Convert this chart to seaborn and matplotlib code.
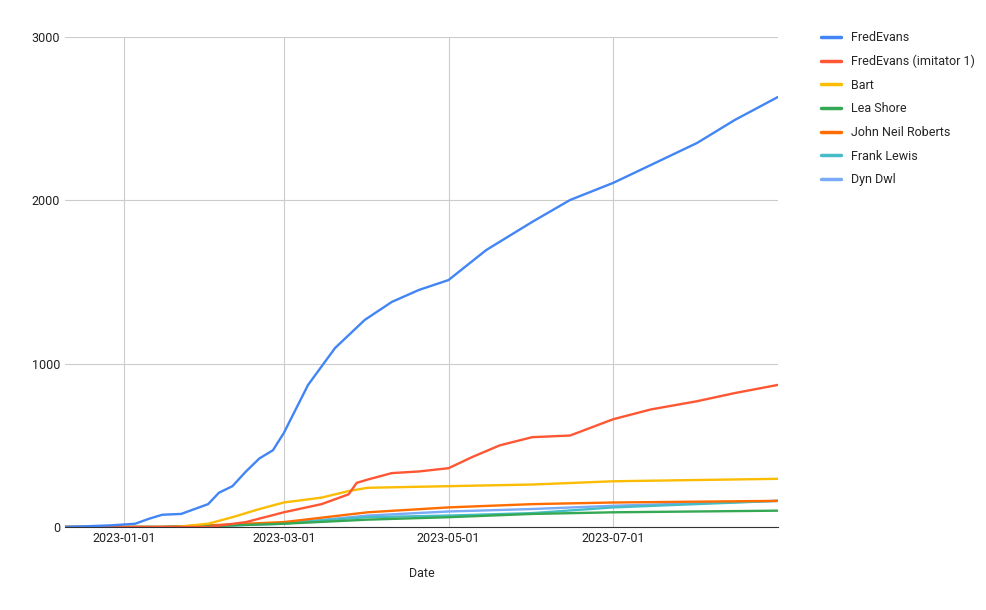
import matplotlib
matplotlib.use("Agg")
import matplotlib.pyplot as plt
import matplotlib.dates as mdates
import seaborn as sns
import pandas as pd

names = ["FredEvans", "FredEvans (imitator 1)", "Bart", "Lea Shore", "John Neil Roberts", "Frank Lewis", "Dyn Dwl"]
colors = ["#4285F4", "#FF5733", "#FBBC04", "#34A853", "#FF6D01", "#46BDC6", "#7BAAF7"]

fred_d = ["2022-12-10","2022-12-27","2023-01-05","2023-01-10","2023-01-15","2023-01-22","2023-02-01","2023-02-05","2023-02-10","2023-02-15","2023-02-20","2023-02-25","2023-03-01","2023-03-10","2023-03-20","2023-03-31","2023-04-10","2023-04-20","2023-05-01","2023-05-15","2023-06-01","2023-06-15","2023-07-01","2023-07-15","2023-08-01","2023-08-15","2023-08-31"]
fred_v = [0,10,20,50,75,80,140,210,250,340,420,470,575,870,1096,1268,1378,1451,1512,1696,1868,2002,2107,2217,2351,2492,2633]
imit_d = ["2022-12-10","2023-02-01","2023-02-15","2023-03-01","2023-03-15","2023-03-25","2023-03-28","2023-04-01","2023-04-10","2023-04-20","2023-05-01","2023-05-10","2023-05-20","2023-06-01","2023-06-15","2023-07-01","2023-07-15","2023-08-01","2023-08-15","2023-08-31"]
imit_v = [0,0,30,90,140,200,270,290,330,340,360,430,500,550,560,660,720,770,820,870]
bart_d = ["2022-12-10","2023-01-20","2023-02-01","2023-02-10","2023-02-20","2023-03-01","2023-03-15","2023-03-25","2023-04-01","2023-05-01","2023-06-01","2023-07-01","2023-08-31"]
bart_v = [0,0,20,60,110,150,180,220,240,250,260,280,295]
common_d = ["2022-12-10","2023-01-15","2023-02-01","2023-03-01","2023-04-01","2023-05-01","2023-06-01","2023-07-01","2023-08-31"]
lea_v = [0,0,5,20,45,60,80,90,100]
john_v = [0,0,10,30,90,120,140,150,160]
frank_v = [0,0,5,25,60,70,85,120,160]
dyn_v = [0,0,5,20,70,95,110,130,160]

series = [(fred_d, fred_v), (imit_d, imit_v), (bart_d, bart_v), (common_d, lea_v),
          (common_d, john_v), (common_d, frank_v), (common_d, dyn_v)]
rows = []
for n, (d, v) in zip(names, series):
    for di, vi in zip(d, v):
        rows.append({"Date": pd.Timestamp(di), "value": vi, "name": n})
df = pd.DataFrame(rows)

sns.set_style("white")
plt.rcParams['font.family'] = ['Roboto', 'DejaVu Sans']
fig = plt.figure(figsize=(9.86, 6.10), dpi=100)
ax = fig.add_axes([65/986, 1-527/610, (778-65)/986, (527-37)/610])
for n, c in list(zip(names, colors))[::-1]:
    sub = df[df.name == n]
    sns.lineplot(data=sub, x="Date", y="value", color=c, lw=1.7, ax=ax, label=n)
h, l = ax.get_legend_handles_labels()
leg = ax.legend(h[::-1], l[::-1], loc="upper left", bbox_to_anchor=(1.045, 1.035), frameon=False,
          fontsize=9, labelspacing=0.85, handlelength=1.6)
for line in leg.get_lines():
    line.set_linewidth(2.5)
ax.set_xlim(pd.Timestamp("2022-12-10"), pd.Timestamp("2023-08-31"))
ax.set_ylim(0, 3000)
ax.set_yticks([0, 1000, 2000, 3000])
ax.set_xticks([pd.Timestamp(x) for x in ["2023-01-01", "2023-03-01", "2023-05-01", "2023-07-01"]])
ax.xaxis.set_major_formatter(mdates.DateFormatter("%Y-%m-%d"))
ax.grid(True, color="#cccccc", lw=0.8)
for s in ["top", "right", "left"]:
    ax.spines[s].set_visible(False)
ax.spines["bottom"].set_color("#333333")
ax.tick_params(length=0, labelsize=9, colors="#222222")
ax.set_xlabel("Date", fontsize=9, labelpad=16)
ax.set_ylabel("")
fig.savefig("out.png", dpi=100)
